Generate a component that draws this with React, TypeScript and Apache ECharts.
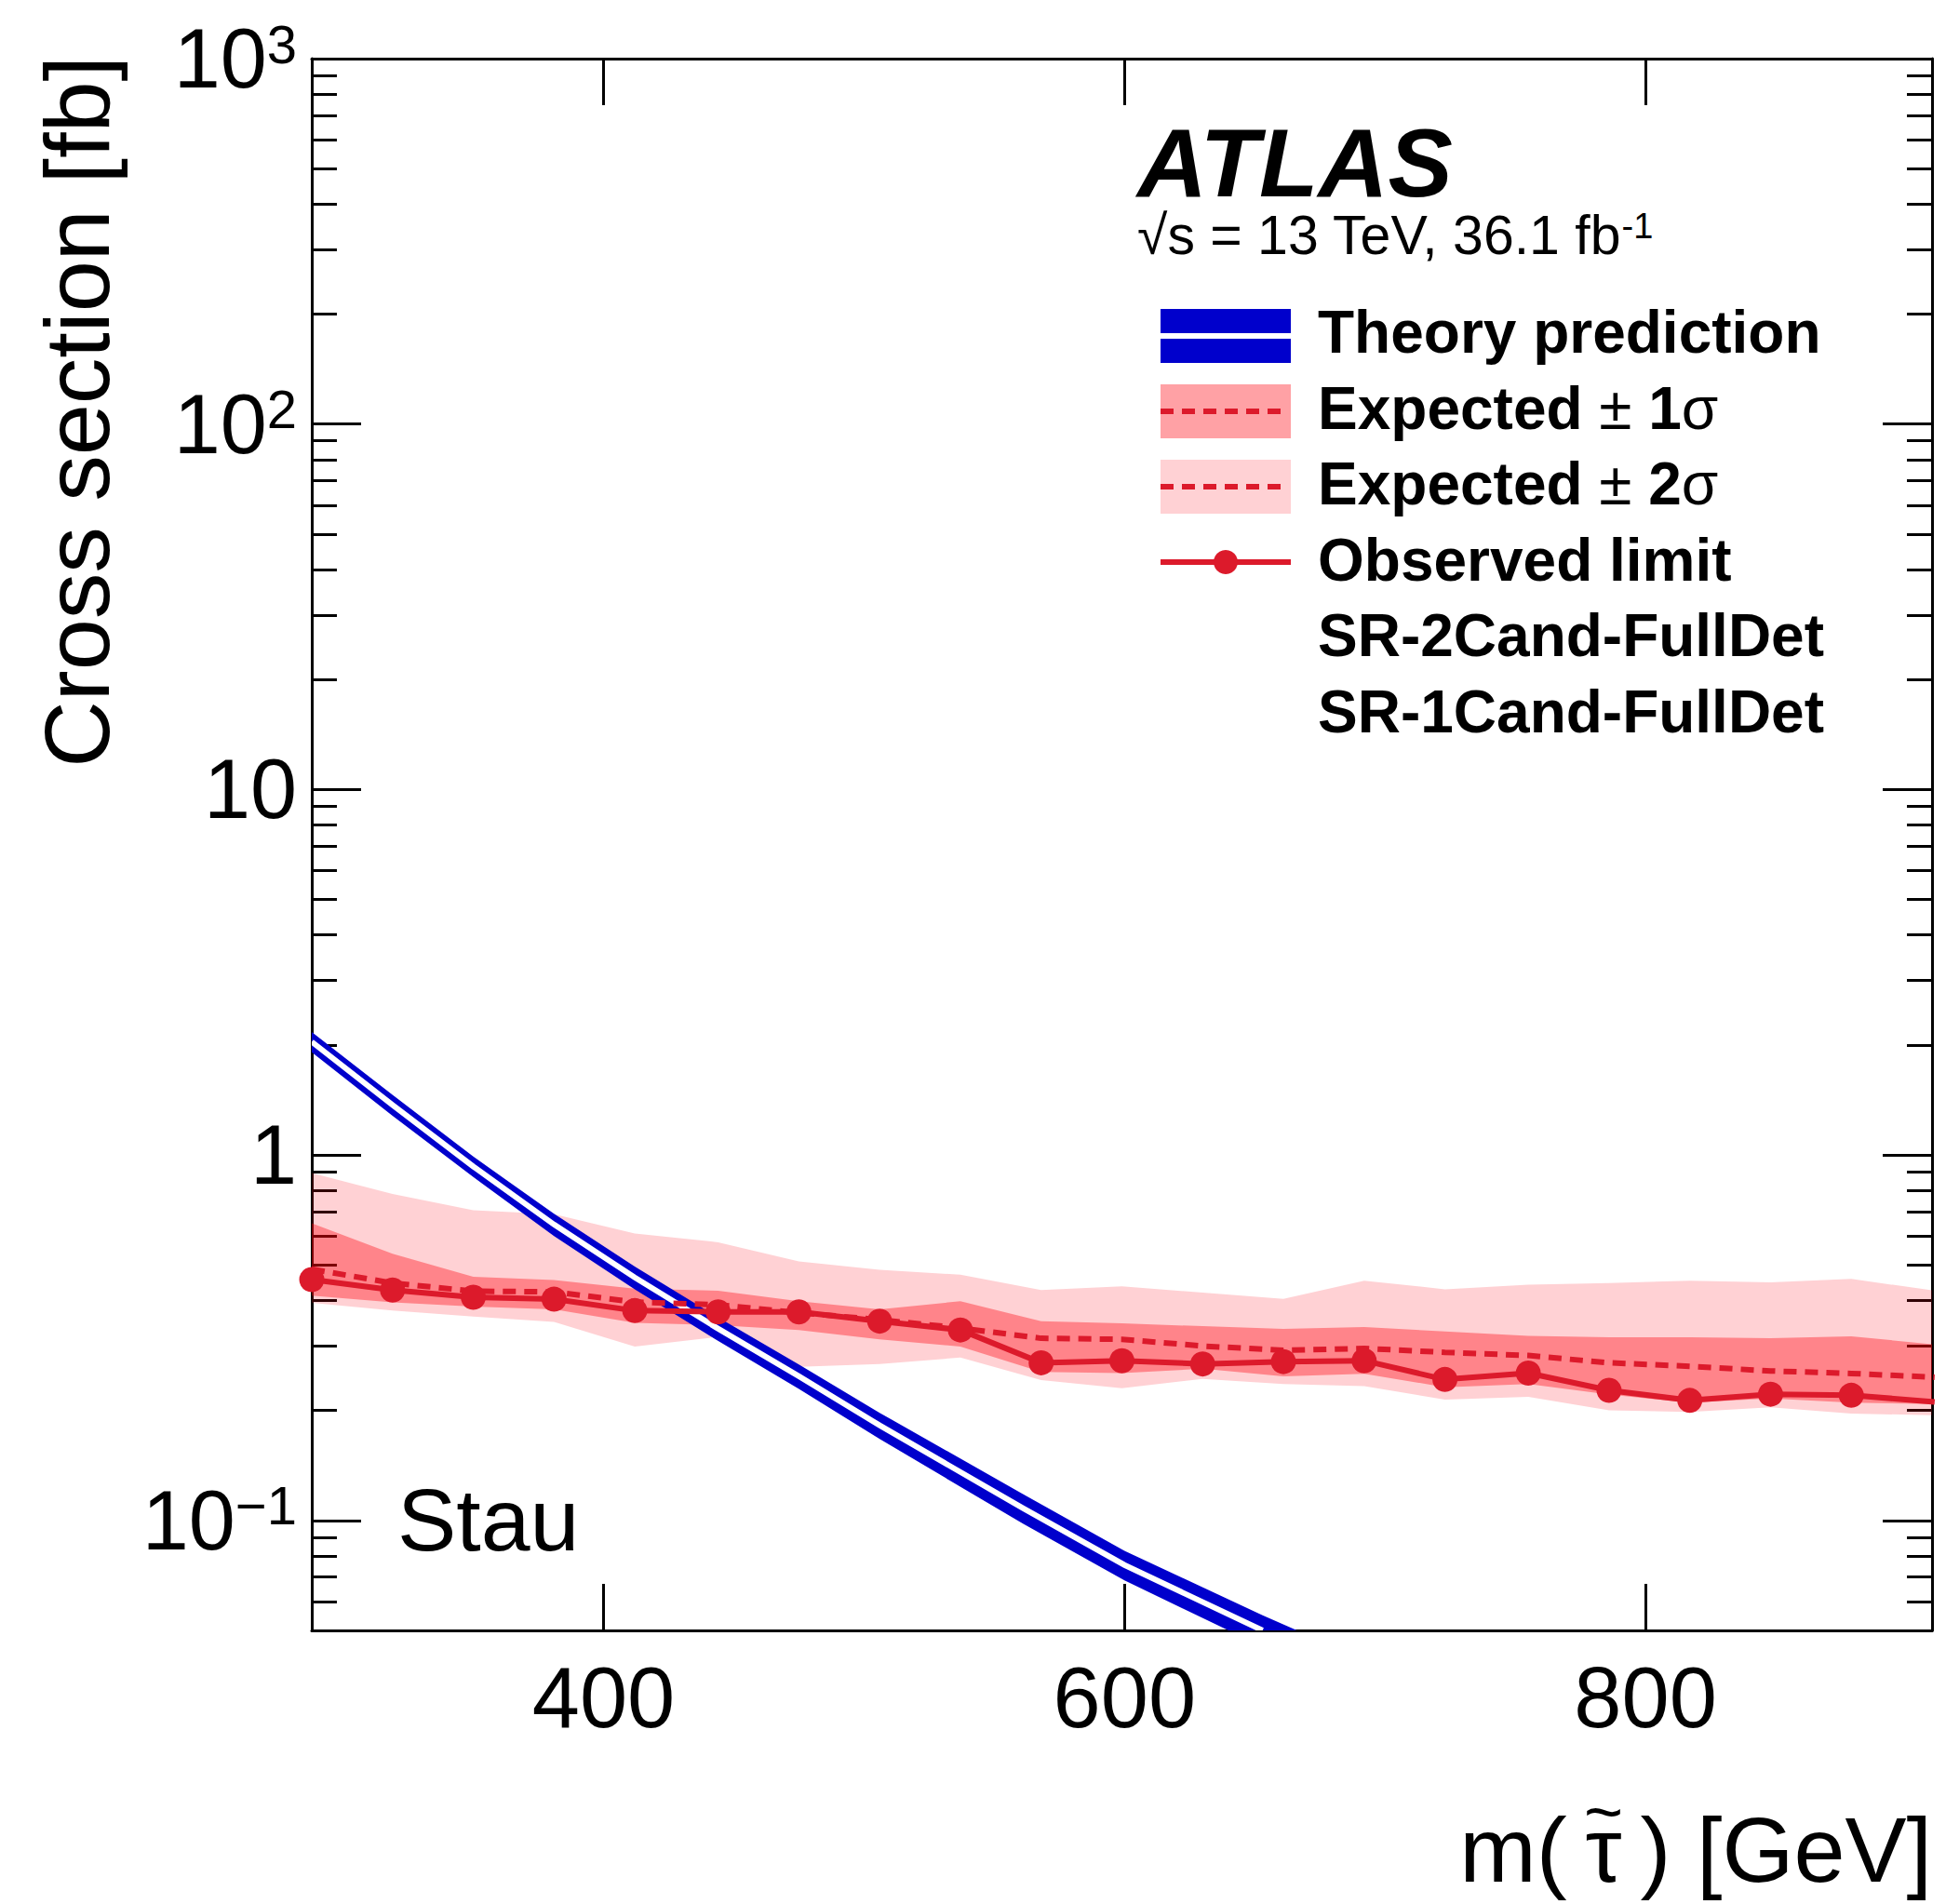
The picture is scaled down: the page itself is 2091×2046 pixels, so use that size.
import React, { useEffect, useRef } from 'react';
import * as echarts from 'echarts';

// ---------------- data ----------------
const masses = [288, 319, 350, 381, 412, 444, 475, 506, 537, 568, 599, 630, 661, 692, 723, 755, 786, 817, 848, 879, 911];
const observed = [0.456, 0.427, 0.408, 0.403, 0.375, 0.372, 0.372, 0.351, 0.332, 0.27, 0.2735, 0.268, 0.272, 0.2735, 0.243, 0.253, 0.227, 0.213, 0.2215, 0.22, 0.211];
const expected = [0.487, 0.446, 0.424, 0.422, 0.396, 0.389, 0.37, 0.354, 0.336, 0.315, 0.313, 0.3, 0.292, 0.2955, 0.2884, 0.2826, 0.27, 0.264, 0.2564, 0.2524, 0.2465];
const exp1Up = [0.65, 0.537, 0.464, 0.455, 0.431, 0.425, 0.398, 0.378, 0.398, 0.351, 0.346, 0.34, 0.334, 0.338, 0.329, 0.32, 0.317, 0.317, 0.315, 0.319, 0.303];
const exp1Down = [0.412, 0.395, 0.385, 0.378, 0.347, 0.342, 0.332, 0.313, 0.299, 0.255, 0.253, 0.26, 0.248, 0.252, 0.2315, 0.236, 0.221, 0.21, 0.2155, 0.21, 0.208];
const exp2Up = [0.892, 0.782, 0.706, 0.688, 0.61, 0.577, 0.511, 0.485, 0.47, 0.427, 0.437, 0.42, 0.404, 0.453, 0.429, 0.4415, 0.446, 0.453, 0.448, 0.458, 0.425];
const exp2Down = [0.394, 0.375, 0.361, 0.349, 0.299, 0.318, 0.263, 0.268, 0.279, 0.242, 0.23, 0.244, 0.236, 0.233, 0.214, 0.218, 0.2, 0.198, 0.204, 0.196, 0.194];

const theoryMass = [288, 319, 350, 381, 412, 443, 475, 506, 561, 600, 653, 700];
const theoryXsec = [2.04, 1.37, 0.93, 0.645, 0.462, 0.338, 0.248, 0.182, 0.108, 0.0755, 0.05, 0.0355];
const theoryUp = [2.17, 1.46, 0.99, 0.69, 0.495, 0.363, 0.267, 0.197, 0.118, 0.0825, 0.055, 0.0392];
const theoryDown = [1.91, 1.28, 0.87, 0.6, 0.429, 0.313, 0.229, 0.167, 0.098, 0.0685, 0.0451, 0.0318];

const xTicks = [400, 600, 800];
const yMajorTicks = [0.1, 1, 10, 100, 1000];
const yMinorTicks = [0.06, 0.07, 0.08, 0.09, 0.2, 0.3, 0.4, 0.5, 0.6, 0.7, 0.8, 0.9, 2, 3, 4, 5, 6, 7, 8, 9, 20, 30, 40, 50, 60, 70, 80, 90, 200, 300, 400, 500, 600, 700, 800, 900];

const legendLabels = ['Theory prediction', 'Expected', 'Expected', 'Observed limit', 'SR-2Cand-FullDet', 'SR-1Cand-FullDet'];

// ---------------- styles ----------------
const FONT = '"Liberation Sans", Arial, Helvetica, sans-serif';
const RED = '#DC1A2B';
const BLUE = '#0000CC';
const BAND1 = 'rgba(255, 0, 12, 0.37)';
const BAND2 = 'rgba(255, 10, 25, 0.19)';

type Pt = number[];
type Rect = { x0: number; y0: number; x1: number; y1: number };

function clipPolygon(poly: Pt[], r: Rect): Pt[] {
  const inside = [
    (p: Pt) => p[0] >= r.x0,
    (p: Pt) => p[0] <= r.x1,
    (p: Pt) => p[1] >= r.y0,
    (p: Pt) => p[1] <= r.y1,
  ];
  const inter = [
    (a: Pt, b: Pt) => { const t = (r.x0 - a[0]) / (b[0] - a[0]); return [r.x0, a[1] + t * (b[1] - a[1])]; },
    (a: Pt, b: Pt) => { const t = (r.x1 - a[0]) / (b[0] - a[0]); return [r.x1, a[1] + t * (b[1] - a[1])]; },
    (a: Pt, b: Pt) => { const t = (r.y0 - a[1]) / (b[1] - a[1]); return [a[0] + t * (b[0] - a[0]), r.y0]; },
    (a: Pt, b: Pt) => { const t = (r.y1 - a[1]) / (b[1] - a[1]); return [a[0] + t * (b[0] - a[0]), r.y1]; },
  ];
  let out = poly;
  for (let e = 0; e < 4; e++) {
    const input = out;
    out = [];
    if (!input.length) break;
    for (let i = 0; i < input.length; i++) {
      const cur = input[i];
      const prev = input[(i + input.length - 1) % input.length];
      const ci = inside[e](cur);
      const pi = inside[e](prev);
      if (ci) {
        if (!pi) out.push(inter[e](prev, cur));
        out.push(cur);
      } else if (pi) {
        out.push(inter[e](prev, cur));
      }
    }
  }
  return out;
}

function clipSeg(p: Pt, q: Pt, r: Rect): Pt[] | null {
  let t0 = 0, t1 = 1;
  const dx = q[0] - p[0], dy = q[1] - p[1];
  const checks = [[-dx, p[0] - r.x0], [dx, r.x1 - p[0]], [-dy, p[1] - r.y0], [dy, r.y1 - p[1]]];
  for (const [pp, qq] of checks) {
    if (pp === 0) {
      if (qq < 0) return null;
    } else {
      const t = qq / pp;
      if (pp < 0) {
        if (t > t1) return null;
        if (t > t0) t0 = t;
      } else {
        if (t < t0) return null;
        if (t < t1) t1 = t;
      }
    }
  }
  return [[p[0] + t0 * dx, p[1] + t0 * dy], [p[0] + t1 * dx, p[1] + t1 * dy]];
}

function clipPolyline(pts: Pt[], r: Rect): Pt[][] {
  const lines: Pt[][] = [];
  let cur: Pt[] | null = null;
  for (let i = 0; i < pts.length - 1; i++) {
    const seg = clipSeg(pts[i], pts[i + 1], r);
    if (!seg) { cur = null; continue; }
    if (cur) {
      const last = cur[cur.length - 1];
      if (Math.hypot(last[0] - seg[0][0], last[1] - seg[0][1]) < 0.01) { cur.push(seg[1]); continue; }
    }
    cur = [seg[0], seg[1]];
    lines.push(cur);
  }
  return lines;
}

function rectOf(params: any): Rect {
  const cs = params.coordSys;
  return { x0: cs.x, y0: cs.y, x1: cs.x + cs.width, y1: cs.y + cs.height };
}

function bandSeries(up: number[], down: number[], color: string, z: number) {
  return {
    type: 'custom',
    coordinateSystem: 'cartesian2d',
    clip: true,
    silent: true,
    z,
    data: [[masses[0], up[0]]],
    renderItem: (params: any, api: any) => {
      const r = rectOf(params);
      const pts: Pt[] = [];
      for (let i = 0; i < masses.length; i++) pts.push(api.coord([masses[i], up[i]]));
      for (let i = masses.length - 1; i >= 0; i--) pts.push(api.coord([masses[i], down[i]]));
      return { type: 'polygon', shape: { points: clipPolygon(pts, r) }, style: { fill: color } };
    },
  };
}

function theorySeries() {
  return {
    type: 'custom',
    coordinateSystem: 'cartesian2d',
    clip: true,
    silent: true,
    z: 3,
    data: [[theoryMass[0], theoryXsec[0]]],
    renderItem: (params: any, api: any) => {
      const r = rectOf(params);
      const pts: Pt[] = [];
      for (let i = 0; i < theoryMass.length; i++) pts.push(api.coord([theoryMass[i], theoryUp[i]]));
      for (let i = theoryMass.length - 1; i >= 0; i--) pts.push(api.coord([theoryMass[i], theoryDown[i]]));
      const center = clipPolyline(theoryMass.map((m, i) => api.coord([m, theoryXsec[i]])), r);
      return {
        type: 'group',
        children: [
          { type: 'polygon', shape: { points: clipPolygon(pts, r) }, style: { fill: BLUE } },
          ...center.map((l) => ({
            type: 'polyline',
            shape: { points: l },
            style: { stroke: '#ffffff', lineWidth: 6, fill: 'none' },
          })),
        ],
      };
    },
  };
}

const axisLineStyle = { show: true, onZero: false, lineStyle: { color: '#000', width: 3 } };

function yAxisDef(position: string, ticks: number[], length: number, withLine: boolean, withLabels: boolean) {
  return {
    type: 'log',
    logBase: 10,
    position,
    min: 0.05,
    max: 1000,
    axisLine: withLine ? axisLineStyle : { show: false },
    axisTick: { show: true, inside: true, length, customValues: ticks, lineStyle: { color: '#000', width: 3 } },
    minorTick: { show: false },
    splitLine: { show: false },
    axisLabel: withLabels
      ? {
          show: true,
          customValues: ticks,
          margin: 16,
          color: '#000',
          fontFamily: FONT,
          fontSize: 90,
          formatter: (v: number) => {
            const e = Math.round(Math.log10(v));
            if (e === 0) return '{n|1}';
            if (e === 1) return '{n|10}';
            return '{b|10}{s|' + (e < 0 ? '\u2212' : '') + Math.abs(e) + '}';
          },
          rich: {
            n: { fontSize: 90, fontFamily: FONT, color: '#000' },
            b: { fontSize: 90, fontFamily: FONT, color: '#000', lineHeight: 90, verticalAlign: 'bottom', padding: [16, 0, 0, 0] },
            s: { fontSize: 58, fontFamily: FONT, color: '#000', lineHeight: 58, verticalAlign: 'top' },
          },
        }
      : { show: false },
  };
}

function xAxisDef(position: string, withLabels: boolean) {
  return {
    type: 'value',
    position,
    min: 288,
    max: 910,
    axisLine: axisLineStyle,
    axisTick: { show: true, inside: true, length: 50, customValues: xTicks, lineStyle: { color: '#000', width: 3 } },
    minorTick: { show: false },
    splitLine: { show: false },
    axisLabel: withLabels
      ? { show: true, customValues: xTicks, margin: 26, color: '#000', fontFamily: FONT, fontSize: 92 }
      : { show: false },
  };
}

function txt(x: number, y: number, text: string, extra: any) {
  return {
    type: 'text',
    x,
    y,
    z: 100,
    style: {
      text,
      fill: '#000',
      fontFamily: FONT,
      textAlign: 'left',
      align: 'left',
      textVerticalAlign: 'middle',
      verticalAlign: 'middle',
      ...extra,
    },
  };
}

function measure(text: string, font: string): number {
  const c = document.createElement('canvas');
  const ctx = c.getContext('2d');
  if (!ctx) return text.length * 50;
  ctx.font = font;
  return ctx.measureText(text).width;
}

function buildGraphics() {
  const bx = 1247, bw = 140, bh = 58, tx = 1416;
  const boxY = [361, 442, 523, 604];
  const textY = [357, 439, 520, 602, 683, 765];
  const bold = { fontSize: 64, fontWeight: 'bold' };
  const els: any[] = [];
  // theory box
  els.push({ type: 'rect', z: 100, shape: { x: bx, y: boxY[0] - bh / 2, width: bw, height: bh }, style: { fill: BLUE } });
  els.push({ type: 'line', z: 101, shape: { x1: bx, y1: boxY[0], x2: bx + bw, y2: boxY[0] }, style: { stroke: '#fff', lineWidth: 6 } });
  // expected 1 sigma
  els.push({ type: 'rect', z: 100, shape: { x: bx, y: boxY[1] - bh / 2, width: bw, height: bh }, style: { fill: BAND1 } });
  els.push({ type: 'line', z: 101, shape: { x1: bx, y1: boxY[1], x2: bx + bw - 8, y2: boxY[1] }, style: { stroke: RED, lineWidth: 6, lineDash: [14, 9] } });
  // expected 2 sigma
  els.push({ type: 'rect', z: 100, shape: { x: bx, y: boxY[2] - bh / 2, width: bw, height: bh }, style: { fill: BAND2 } });
  els.push({ type: 'line', z: 101, shape: { x1: bx, y1: boxY[2], x2: bx + bw - 8, y2: boxY[2] }, style: { stroke: RED, lineWidth: 6, lineDash: [14, 9] } });
  // observed
  els.push({ type: 'line', z: 101, shape: { x1: bx, y1: boxY[3], x2: bx + bw, y2: boxY[3] }, style: { stroke: RED, lineWidth: 6 } });
  els.push({ type: 'circle', z: 102, shape: { cx: bx + bw / 2, cy: boxY[3], r: 13 }, style: { fill: RED } });

  const richSigma = {
    b: { fontSize: 64, fontWeight: 'bold', fontFamily: FONT, fill: '#000', color: '#000' },
    n: { fontSize: 64, fontFamily: FONT, fill: '#000', color: '#000' },
  };
  els.push(txt(tx, textY[0], legendLabels[0], bold));
  els.push(txt(tx, textY[1], '{b|' + legendLabels[1] + ' }{n|\u00b1}{b| 1}{n|\u03c3}', { rich: richSigma }));
  els.push(txt(tx, textY[2], '{b|' + legendLabels[2] + ' }{n|\u00b1}{b| 2}{n|\u03c3}', { rich: richSigma }));
  els.push(txt(tx, textY[3], legendLabels[3], bold));
  els.push(txt(tx, textY[4], legendLabels[4], bold));
  els.push(txt(tx, textY[5], legendLabels[5], bold));

  // ATLAS label
  els.push(txt(1222, 175, 'ATLAS', { fontSize: 104, fontWeight: 'bold', fontStyle: 'italic' }));
  els.push(
    txt(1222, 253, '{n|\u221as = 13 TeV, 36.1 fb}{s|-1}', {
      rich: {
        n: { fontSize: 59, fontFamily: FONT, fill: '#000', color: '#000', lineHeight: 59, verticalAlign: 'bottom', padding: [12, 0, 0, 0] },
        s: { fontSize: 38, fontFamily: FONT, fill: '#000', color: '#000', lineHeight: 38, verticalAlign: 'top' },
      },
    })
  );
  // Stau
  els.push(txt(427, 1633, 'Stau', { fontSize: 95 }));
  // axis titles
  els.push({
    type: 'text',
    x: 82,
    y: 60,
    rotation: Math.PI / 2,
    z: 100,
    style: {
      text: 'Cross section [fb]',
      fill: '#000',
      fontFamily: FONT,
      fontSize: 99,
      textAlign: 'right',
      align: 'right',
      textVerticalAlign: 'middle',
      verticalAlign: 'middle',
    },
  });
  const titleFont = '99px "Liberation Sans"';
  const xTitleRight = 2076;
  const xTitleY = 1987;
  const tail = '\u2009) [GeV]';
  els.push(txt(xTitleRight, xTitleY, 'm(\u2009\u03c4' + tail, { fontSize: 99, textAlign: 'right', align: 'right' }));
  const tauCenter = xTitleRight - measure(tail, titleFont) - measure('\u03c4', titleFont) / 2;
  els.push(txt(tauCenter, xTitleY - 40, '~', { fontSize: 72, textAlign: 'center', align: 'center' }));
  return els;
}

export default function App() {
  const ref = useRef<HTMLDivElement>(null);
  useEffect(() => {
    document.body.style.margin = '0';
    document.body.style.overflow = 'hidden';
    if (!ref.current) return;
    const chart = echarts.init(ref.current, null, { renderer: 'svg' });
    const option: any = {
      animation: false,
      backgroundColor: '#ffffff',
      grid: { left: 335, top: 63, width: 1741, height: 1689, containLabel: false, outerBoundsMode: 'none' },
      xAxis: [xAxisDef('bottom', true), xAxisDef('top', false)],
      yAxis: [
        yAxisDef('left', yMajorTicks, 53, true, true),
        yAxisDef('left', yMinorTicks, 27, false, false),
        yAxisDef('right', yMajorTicks, 53, true, false),
        yAxisDef('right', yMinorTicks, 27, false, false),
      ],
      series: [
        bandSeries(exp2Up, exp2Down, BAND2, 2),
        bandSeries(exp1Up, exp1Down, BAND1, 2),
        theorySeries(),
        {
          type: 'line',
          data: masses.map((m, i) => [m, expected[i]]),
          symbol: 'none',
          clip: true,
          silent: true,
          z: 4,
          lineStyle: { color: RED, width: 6, type: [14, 9] },
        },
        {
          type: 'line',
          data: masses.map((m, i) => [m, observed[i]]),
          symbol: 'circle',
          symbolSize: 27,
          showAllSymbol: true,
          clip: true,
          silent: true,
          z: 5,
          lineStyle: { color: RED, width: 6 },
          itemStyle: { color: RED, borderWidth: 0 },
        },
      ],
      graphic: { elements: buildGraphics() },
    };
    chart.setOption(option);
    return () => chart.dispose();
  }, []);
  return <div ref={ref} style={{ position: 'absolute', left: 0, top: 0, width: 2091, height: 2046 }} />;
}
